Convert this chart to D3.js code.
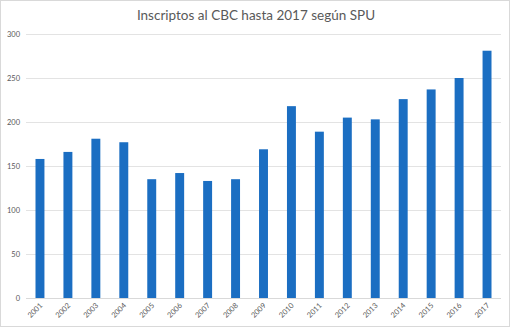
<!DOCTYPE html>
<html>
<head>
<meta charset="utf-8">
<script src="https://cdn.jsdelivr.net/npm/d3@7"></script>
<style>
  html, body { margin: 0; padding: 0; background: #fff; }
  svg { display: block; }
</style>
</head>
<body>
<svg id="chart" width="512" height="328"></svg>
<script>
const title = "Inscriptos al CBC hasta 2017 según SPU";
const years = ["2001","2002","2003","2004","2005","2006","2007","2008","2009","2010","2011","2012","2013","2014","2015","2016","2017"];
const inscriptos = [158, 166, 181, 177, 135, 142, 133, 135, 169, 218, 189, 205, 203, 226, 237, 250, 281];
const yTicks = [0, 50, 100, 150, 200, 250, 300];

const W = 512, H = 328;
const margin = { left: 26, right: 11, top: 34, bottom: 30 };
const svg = d3.select("#chart");
const FONT = "Lato, 'Open Sans', sans-serif";

svg.append("rect")
  .attr("x", 0.5).attr("y", 0.5)
  .attr("width", W - 3).attr("height", H - 2)
  .attr("fill", "#fff").attr("stroke", "#d9d9d9");

const x = d3.scaleBand().domain(years).range([margin.left, W - margin.right]).paddingInner(0.68).paddingOuter(0.34);
const y = d3.scaleLinear().domain([0, 300]).range([H - margin.bottom, margin.top]);

// gridlines
svg.append("g")
  .selectAll("line").data(yTicks).join("line")
  .attr("x1", margin.left).attr("x2", W - margin.right)
  .attr("y1", d => Math.round(y(d)) + 0.5).attr("y2", d => Math.round(y(d)) + 0.5)
  .attr("stroke", d => d === 0 ? "#d9d9d9" : "#e3e3e3").attr("stroke-width", 1);

// y axis
const yAxis = svg.append("g")
  .attr("transform", `translate(${margin.left},0)`)
  .call(d3.axisLeft(y).tickValues(yTicks).tickSize(0).tickPadding(6));
yAxis.select(".domain").remove();
yAxis.selectAll("text")
  .attr("fill", "#595959")
  .style("font-family", FONT)
  .style("font-size", "7.5px");

// bars
svg.append("g")
  .selectAll("rect").data(years).join("rect")
  .attr("x", d => x(d))
  .attr("width", x.bandwidth())
  .attr("y", (d, i) => y(inscriptos[i]))
  .attr("height", (d, i) => y(0) - y(inscriptos[i]))
  .attr("fill", "#1b6ec2");

// x labels along -45deg paths
const defs = svg.append("defs");
defs.selectAll("path").data(years).join("path")
  .attr("id", d => "lbl" + d)
  .attr("d", d => {
    const ex = x(d) + x.bandwidth() / 2 + 3, ey = y(0) + 8;
    return `M${ex - 30},${ey + 30}L${ex},${ey}`;
  });
svg.append("g")
  .selectAll("text").data(years).join("text")
  .attr("fill", "#595959")
  .style("font-family", FONT)
  .style("font-size", "7.5px")
  .append("textPath")
  .attr("href", d => "#lbl" + d)
  .attr("startOffset", "100%")
  .attr("text-anchor", "end")
  .text(d => d);

// title
svg.append("text")
  .attr("x", 256).attr("y", 20)
  .attr("text-anchor", "middle")
  .attr("fill", "#595959")
  .style("font-family", FONT)
  .style("font-size", "13.5px")
  .text(title);
</script>
</body>
</html>
